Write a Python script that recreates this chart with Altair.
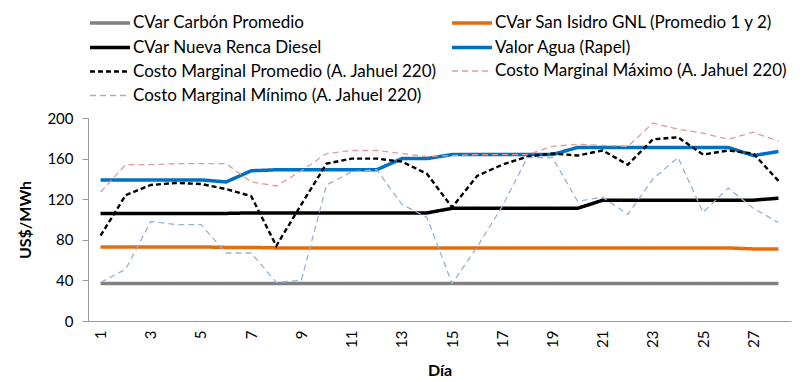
import altair as alt
import pandas as pd

# Daily costs, US$/MWh
days = list(range(1, 29))

series_names = [
    "CVar Carbón Promedio",
    "CVar San Isidro GNL (Promedio 1 y 2)",
    "CVar Nueva Renca Diesel",
    "Valor Agua (Rapel)",
    "Costo Marginal Promedio (A. Jahuel 220)",
    "Costo Marginal Máximo (A. Jahuel 220)",
    "Costo Marginal Mínimo (A. Jahuel 220)",
]

cvar_carbon = [37] * 28
cvar_san_isidro = [73, 73, 73, 73, 73, 72.5, 72.5, 72, 72, 72, 72, 72, 72, 72,
                   72, 72, 72, 72, 72, 72, 72, 72, 72, 72, 72, 72, 71, 71]
cvar_nueva_renca = [106, 106, 106, 106, 106, 106, 106.5, 106.5, 106.5, 106.5, 106.5, 106.5, 106.5, 106.5,
                    111, 111, 111, 111, 111, 111, 119, 119, 119, 119, 119, 119, 119, 121]
valor_agua = [139, 139, 139, 139, 139, 137, 148, 149, 149, 149, 149, 149, 160, 160,
              164, 164, 164, 164, 164, 171, 171, 171, 171, 171, 171, 171, 163, 167]
cm_promedio = [84, 124, 134, 136, 135, 130, 123, 74, 115, 155, 160, 160, 157, 145,
               112, 143, 154, 162, 165, 163, 168, 154, 179, 181, 164, 168, 165, 138]
cm_maximo = [127, 154, 154, 155, 155, 155, 137, 133, 148, 165, 168, 168, 165, 162,
             163, 164, 164, 164, 172, 174, 173, 172, 195, 189, 185, 179, 186, 177]
cm_minimo = [38, 51, 98, 95, 95, 67, 67, 38, 40, 134, 147, 149, 115, 102,
             37, 73, 113, 161, 161, 118, 122, 105, 140, 161, 107, 131, 111, 97]

colors = ["#808080", "#E46C0A", "#000000", "#0070C0", "#000000", "#DE9C9A", "#95B3D7"]
dashes = [[1, 0], [1, 0], [1, 0], [1, 0], [5, 3], [6, 4], [6, 4]]
widths = [3.5, 3.5, 3.5, 3.5, 2.4, 1.3, 1.3]

columns = [cvar_carbon, cvar_san_isidro, cvar_nueva_renca, valor_agua,
           cm_promedio, cm_maximo, cm_minimo]

rows = []
for name, values in zip(series_names, columns):
    for d, v in zip(days, values):
        rows.append({"Día": d, "valor": v, "serie": name})
df = pd.DataFrame(rows)

FONT = "Lato"

# Legend swatch: a horizontal stroke twice as wide as the unit symbol box
legend = alt.Legend(
    title=None,
    orient="none",
    legendX=10,
    legendY=-107,
    direction="horizontal",
    columns=2,
    columnPadding=8,
    rowPadding=4.5,
    padding=0,
    symbolType="M-2,0H2",
    symbolSize=400,
    labelOffset=11,
    labelLimit=500,
    labelFont=FONT,
    labelFontSize=17,
    labelColor="#000000",
)

chart = (
    alt.Chart(df)
    .mark_line()
    .encode(
        x=alt.X(
            "Día:Q",
            scale=alt.Scale(domain=[0.5, 28.5], nice=False, zero=False),
            axis=alt.Axis(
                values=list(range(1, 28, 2)),
                labelAngle=270,
                labelAlign="right",
                labelBaseline="middle",
                ticks=False,
                labelPadding=9,
                grid=False,
                title="Día",
                titlePadding=15,
            ),
        ),
        y=alt.Y(
            "valor:Q",
            scale=alt.Scale(domain=[0, 200], nice=False),
            axis=alt.Axis(
                values=list(range(0, 201, 40)),
                grid=False,
                tickSize=6,
                labelPadding=9,
                title="US$/MWh",
                titlePadding=13,
            ),
        ),
        color=alt.Color("serie:O", scale=alt.Scale(type="ordinal", domain=series_names, range=colors), legend=legend),
        strokeDash=alt.StrokeDash("serie:O", scale=alt.Scale(type="ordinal", domain=series_names, range=dashes), legend=legend),
        strokeWidth=alt.StrokeWidth("serie:O", scale=alt.Scale(type="ordinal", domain=series_names, range=widths), legend=legend),
        order=alt.Order("Día:Q"),
    )
    .properties(
        width=703,
        height=203,
        autosize=alt.AutoSizeParams(type="none"),
        padding={"left": 88, "top": 118, "right": 15, "bottom": 61},
    )
    .configure_view(stroke=None)
    .configure_axis(
        domainColor="#999999",
        tickColor="#999999",
        labelFont=FONT,
        labelFontSize=15,
        labelColor="#000000",
        titleFont=FONT,
        titleFontSize=16,
        titleFontWeight="bold",
        titleColor="#000000",
    )
)

chart.save("out.html", embed_options={"renderer": "svg", "actions": False})
